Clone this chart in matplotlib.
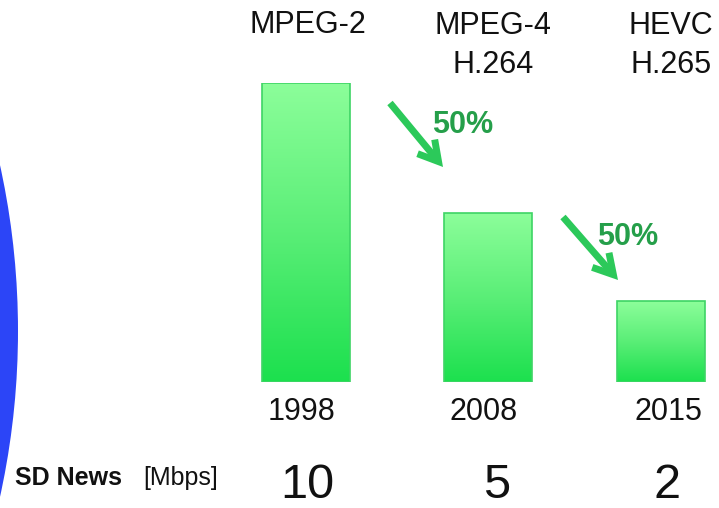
import matplotlib
matplotlib.use("Agg")
import matplotlib.pyplot as plt
import numpy as np
from matplotlib.patches import Ellipse, FancyArrowPatch
from matplotlib.colors import LinearSegmentedColormap

codecs = ["MPEG-2", "MPEG-4\nH.264", "HEVC\nH.265"]
years = ["1998", "2008", "2015"]
bitrates = ["10", "5", "2"]
bar_heights = [10, 5.65, 2.7]
reduction_labels = ["50%", "50%"]

W, H = 719, 508
fig = plt.figure(figsize=(W / 100, H / 100), dpi=100)
fig.patch.set_facecolor("white")
font = ["Liberation Sans", "DejaVu Sans"]


def fx(px):
    return px / W


def fy(py):
    return 1 - py / H


# big blue circle at left edge
R = 774
circ = Ellipse((fx(18 - R), fy(331)), 2 * R / W, 2 * R / H,
               transform=fig.transFigure, facecolor="#2C45F7", edgecolor="none")
fig.patches.append(circ)

# bars axes
x = np.array([0, 1, 1.95])
px_per_unit = 182.0
left_px = 306 - 0.47 * px_per_unit
right_px = 719
ax = fig.add_axes([fx(left_px), fy(382), (right_px - left_px) / W, (382 - 83) / H])
xlim = (-0.47, -0.47 + (right_px - left_px) / px_per_unit)

cmap = LinearSegmentedColormap.from_list("g", ["#1CE04E", "#5AEE77", "#8CFE9A"])
grad = np.linspace(0, 1, 256).reshape(-1, 1)
bw = 88 / px_per_unit
bars = ax.bar(x, bar_heights, width=bw, color="none", edgecolor="#3ED465", linewidth=1.2)
for b in bars:
    x0, y0 = b.get_x(), b.get_y()
    w, h = b.get_width(), b.get_height()
    im = ax.imshow(grad, extent=[x0, x0 + w, y0, y0 + h], origin="lower",
                   cmap=cmap, aspect="auto", zorder=1)
    im.set_clip_path(b)
    b.set_zorder(2)
ax.set_xlim(*xlim)
ax.set_ylim(0, 10)
ax.axis("off")

# text layout (pixel positions)
codec_x = [308, 493, 671]
year_x = [302, 484, 668]
rate_x = [307, 497, 667]
for cx, c in zip(codec_x, codecs):
    nlines = c.count("\n") + 1
    fig.text(fx(cx), fy(33 + 40 * (nlines - 1)), c, ha="center", va="baseline",
             fontsize=22, family=font, linespacing=1.38, color="#111111")
for yx, yr in zip(year_x, years):
    fig.text(fx(yx), fy(420), yr, ha="center", va="baseline", fontsize=22,
             family=font, color="#111111")
for rx, br in zip(rate_x, bitrates):
    fig.text(fx(rx), fy(498), br, ha="center", va="baseline", fontsize=35,
             family=font, color="#111111")

fig.text(fx(15), fy(485), "SD News", fontsize=18, fontweight="bold", family=font,
         ha="left", va="baseline", color="#111111")
fig.text(fx(143), fy(485), "[Mbps]", fontsize=18, family=font,
         ha="left", va="baseline", color="#111111")

# arrows and labels
arrow_pts = [((390, 103), (443, 167)), ((563, 217), (618, 280))]
label_pos = [(463, 133), (628, 245)]
for (p0, p1), lp, lab in zip(arrow_pts, label_pos, reduction_labels):
    a = FancyArrowPatch((fx(p0[0]), fy(p0[1])), (fx(p1[0]), fy(p1[1])),
                        transform=fig.transFigure,
                        arrowstyle="->,head_length=14,head_width=8",
                        color="#2CC95A", linewidth=5, mutation_scale=1,
                        shrinkA=0, shrinkB=0, capstyle="butt", joinstyle="miter")
    fig.patches.append(a)
    fig.text(fx(lp[0]), fy(lp[1]), lab, fontsize=22, fontweight="bold", family=font,
             ha="center", va="baseline", color="#259F4A")

fig.savefig("out.png", dpi=100, facecolor="white")
